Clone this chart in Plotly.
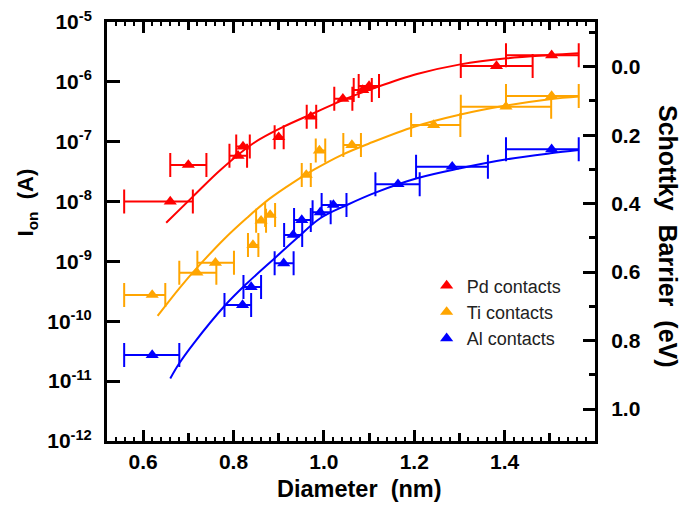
import plotly.graph_objects as go

# ---------------- data ----------------
pd_x = [0.66, 0.70, 0.81, 0.821, 0.90, 0.971, 1.042, 1.086, 1.100, 1.382, 1.504]
pd_y = [1.0e-8, 4.1e-8, 5.8e-8, 8.3e-8, 1.19e-7, 2.62e-7, 5.2e-7, 7.3e-7, 8.5e-7, 1.84e-6, 2.78e-6]
pd_xlo = [0.558, 0.660, 0.791, 0.806, 0.891, 0.962, 1.023, 1.066, 1.077, 1.303, 1.403]
pd_xhi = [0.710, 0.740, 0.830, 0.836, 0.911, 0.983, 1.063, 1.106, 1.122, 1.462, 1.564]

ti_x = [0.620, 0.719, 0.760, 0.843, 0.861, 0.881, 0.961, 0.990, 1.062, 1.243, 1.403, 1.504]
ti_y = [2.75e-10, 6.5e-10, 9.5e-10, 1.88e-9, 4.8e-9, 5.97e-9, 2.78e-8, 7.1e-8, 8.8e-8, 1.9e-7, 3.85e-7, 5.8e-7]
ti_xlo = [0.558, 0.680, 0.720, 0.832, 0.850, 0.870, 0.951, 0.982, 1.043, 1.193, 1.303, 1.403]
ti_xhi = [0.649, 0.762, 0.801, 0.855, 0.872, 0.892, 0.971, 1.003, 1.082, 1.302, 1.503, 1.564]

al_x = [0.620, 0.820, 0.839, 0.911, 0.932, 0.951, 0.992, 1.021, 1.164, 1.284, 1.504]
al_y = [2.73e-11, 1.87e-10, 3.74e-10, 9.3e-10, 2.77e-9, 4.92e-9, 6.6e-9, 8.8e-9, 1.95e-8, 3.83e-8, 7.46e-8]
al_xlo = [0.558, 0.780, 0.822, 0.891, 0.912, 0.934, 0.975, 0.995, 1.114, 1.204, 1.403]
al_xhi = [0.680, 0.839, 0.861, 0.933, 0.952, 0.971, 1.015, 1.050, 1.212, 1.363, 1.564]

# fit curves
pd_fit_x = [0.651, 0.710, 0.771, 0.844, 0.911, 0.977, 1.051, 1.110, 1.206, 1.302, 1.405, 1.501, 1.564]
pd_fit_y = [4.44e-9, 1.21e-8, 3.37e-8, 9.42e-8, 1.78e-7, 2.99e-7, 5.31e-7, 7.80e-7, 1.35e-6, 1.96e-6, 2.48e-6, 2.81e-6, 3.00e-6]

ti_fit_x = [0.632, 0.68, 0.72, 0.78, 0.83, 0.88, 0.93, 0.98, 1.04, 1.10, 1.20, 1.30, 1.40, 1.50, 1.565]
ti_fit_y = [1.23e-10, 3.55e-10, 7.94e-10, 2.40e-9, 5.37e-9, 1.12e-8, 2.04e-8, 3.47e-8, 6.03e-8, 9.33e-8, 1.78e-7, 2.82e-7, 3.98e-7, 5.13e-7, 5.69e-7]

al_fit_x = [0.660, 0.680, 0.712, 0.780, 0.830, 0.891, 0.940, 0.992, 1.051, 1.114, 1.206, 1.302, 1.405, 1.501, 1.564]
al_fit_y = [1.11e-11, 1.99e-11, 4.29e-11, 1.80e-10, 4.32e-10, 1.13e-9, 2.44e-9, 5.26e-9, 8.77e-9, 1.41e-8, 2.45e-8, 3.60e-8, 5.08e-8, 6.41e-8, 7.28e-8]

y_tick_exp = [-5, -6, -7, -8, -9, -10, -11, -12]
x_tick_vals = [0.6, 0.8, 1.0, 1.2, 1.4]
x_mid_vals = [0.7, 0.9, 1.1, 1.3, 1.5]
sb_tick_vals = [0.0, 0.2, 0.4, 0.6, 0.8, 1.0]
sb_minor_vals = [-0.1, 0.1, 0.3, 0.5, 0.7, 0.9]

series = [
    ("Pd contacts", "#ff0000", pd_x, pd_y, pd_xlo, pd_xhi, pd_fit_x, pd_fit_y),
    ("Ti contacts", "#ffa500", ti_x, ti_y, ti_xlo, ti_xhi, ti_fit_x, ti_fit_y),
    ("Al contacts", "#0000ff", al_x, al_y, al_xlo, al_xhi, al_fit_x, al_fit_y),
]

FONT = "Liberation Sans, Arial, Helvetica, sans-serif"

fig = go.Figure()
for name, col, x, y, lo, hi, fx, fy in series:
    fig.add_trace(go.Scatter(x=fx, y=fy, mode="lines", line=dict(color=col, width=2, shape="spline"),
                             showlegend=False, hoverinfo="skip"))
for name, col, x, y, lo, hi, fx, fy in series:
    fig.add_trace(go.Scatter(
        x=x, y=y, mode="markers", name=name,
        marker=dict(symbol="triangle-up", size=11.5, color=col, line=dict(width=0)),
        error_x=dict(type="data", symmetric=False,
                     array=[h - v for h, v in zip(hi, x)],
                     arrayminus=[v - l for v, l in zip(x, lo)],
                     color=col, thickness=2, width=12),
    ))
# empty traces so that the secondary axes (right barrier axis, mid ticks) get drawn
fig.add_trace(go.Scatter(x=[], y=[], xaxis="x", yaxis="y2", showlegend=False, hoverinfo="skip"))
fig.add_trace(go.Scatter(x=[], y=[], xaxis="x2", yaxis="y", showlegend=False, hoverinfo="skip"))

xr = [0.52, 1.6]
fig.update_layout(
    width=682, height=512,
    margin=dict(l=107, r=87, t=22, b=71, autoexpand=False),
    paper_bgcolor="white", plot_bgcolor="white",
    font=dict(family=FONT, color="black"),
    showlegend=True,
    legend=dict(x=0.655, y=0.4145, xanchor="left", yanchor="top",
                bgcolor="rgba(0,0,0,0)", font=dict(size=18, color="#222"),
                tracegroupgap=0),
    xaxis=dict(range=xr, automargin=False, showline=True, linewidth=3, linecolor="black", mirror="ticks",
               ticks="inside", ticklen=11, tickwidth=3, tickcolor="black",
               tickmode="array", tickvals=x_tick_vals,
               ticktext=["%.1f" % v for v in x_tick_vals],
               tickfont=dict(size=21, weight="bold"),
               showgrid=False, zeroline=False,
               minor=dict(ticks="inside", tickmode="linear", tick0=0, dtick=0.02,
                          ticklen=4, tickwidth=2, tickcolor="black", showgrid=False)),
    xaxis2=dict(range=xr, automargin=False, overlaying="x", anchor="y", side="bottom",
                showline=False, mirror="ticks", ticks="inside", ticklen=8, tickwidth=2.5,
                tickcolor="black", tickmode="array", tickvals=x_mid_vals,
                showticklabels=False, showgrid=False, zeroline=False),
    yaxis=dict(type="log", range=[-12, -5], automargin=False, showline=True, linewidth=3, linecolor="black",
               ticks="inside", ticklen=13, tickwidth=3, tickcolor="black",
               tickmode="array", tickvals=[10.0 ** e for e in y_tick_exp],
               ticktext=["<b>10<sup>%d</sup></b>" % e for e in y_tick_exp],
               tickfont=dict(size=21), ticklabelstandoff=8,
               showgrid=False, zeroline=False),
    yaxis2=dict(range=[1.0935, -0.1306], automargin=False, overlaying="y", anchor="x", side="right",
                showline=True, linewidth=3, linecolor="black",
                ticks="inside", ticklen=12, tickwidth=3, tickcolor="black",
                tickmode="array", tickvals=sb_tick_vals,
                ticktext=["%.1f" % v for v in sb_tick_vals],
                tickfont=dict(size=21, weight="bold"), ticklabelstandoff=9,
                showgrid=False, zeroline=False,
                minor=dict(ticks="inside", tickmode="array", tickvals=sb_minor_vals,
                           ticklen=6, tickwidth=3, tickcolor="black", showgrid=False)),
    annotations=[
        dict(text="<b>Diameter  (nm)</b>", xref="paper", yref="paper", x=0.5177, y=-0.1146,
             xanchor="center", yanchor="middle", showarrow=False, font=dict(size=23.5)),
        dict(text="<b>I<sub>on</sub>  (A)</b>", xref="paper", yref="paper", x=-0.163, y=0.5705,
             xanchor="center", yanchor="middle", showarrow=False, textangle=-90,
             font=dict(size=22)),
        dict(text="<b>Schottky  Barrier  (eV)</b>", xref="paper", yref="paper", x=1.1495, y=0.487,
             xanchor="center", yanchor="middle", showarrow=False, textangle=90,
             font=dict(size=25)),
    ],
)

fig.write_html("out.html", config={"displayModeBar": False},
               post_script="document.body.style.margin='0';document.body.style.padding='0';")
